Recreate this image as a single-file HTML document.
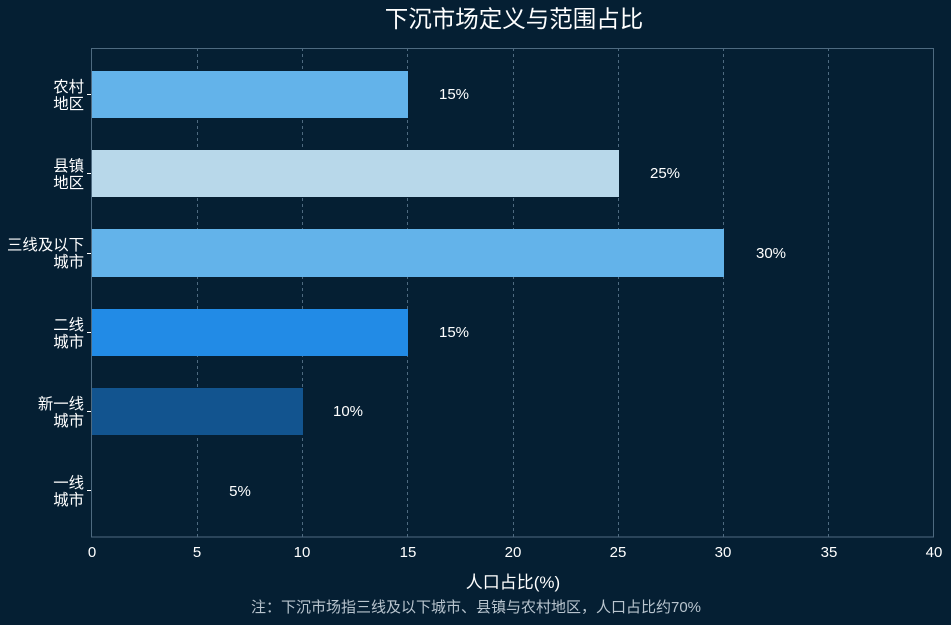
<!DOCTYPE html>
<html><head><meta charset="utf-8"><style>
html,body{margin:0;padding:0;background:#051f33;}
svg{display:block;font-family:"Liberation Sans","Noto Sans CJK SC",sans-serif;}
</style></head><body>
<svg width="951" height="625" viewBox="0 0 951 625">
<rect width="951" height="625" fill="#051f33"/>
<text x="514" y="27" fill="#fff" font-size="23.5" text-anchor="middle">下沉市场定义与范围占比</text>
<g stroke="#4e6a80" stroke-dasharray="3,3" stroke-width="1">
<line x1="197.5" y1="48" x2="197.5" y2="537"/><line x1="302.5" y1="48" x2="302.5" y2="537"/>
<line x1="407.5" y1="48" x2="407.5" y2="537"/><line x1="513.5" y1="48" x2="513.5" y2="537"/>
<line x1="618.5" y1="48" x2="618.5" y2="537"/><line x1="723.5" y1="48" x2="723.5" y2="537"/>
<line x1="828.5" y1="48" x2="828.5" y2="537"/>
</g>
<rect x="92" y="71" width="316" height="47" fill="#63b3ea"/>
<rect x="92" y="150" width="527" height="47" fill="#b8d8ea"/>
<rect x="92" y="229" width="632" height="48" fill="#63b3ea"/>
<rect x="92" y="309" width="316" height="47" fill="#228be6"/>
<rect x="92" y="388" width="211" height="47" fill="#12548f"/>
<rect x="91.5" y="48.5" width="842" height="488.5" fill="none" stroke="#4e6a80"/>
<g fill="#fff" font-size="15" text-anchor="middle">
<text x="454" y="99">15%</text><text x="665" y="178">25%</text><text x="771" y="258">30%</text>
<text x="454" y="337">15%</text><text x="348" y="416">10%</text><text x="240" y="496">5%</text>
</g>
<g fill="#fff" font-size="15.4" text-anchor="end">
<text x="84" y="92">农村</text><text x="84" y="109">地区</text>
<text x="84" y="171">县镇</text><text x="84" y="188">地区</text>
<text x="84" y="250">三线及以下</text><text x="84" y="267">城市</text>
<text x="84" y="330">二线</text><text x="84" y="347">城市</text>
<text x="84" y="409">新一线</text><text x="84" y="426">城市</text>
<text x="84" y="488">一线</text><text x="84" y="505">城市</text>
</g>
<g stroke="#fff"><line x1="87" y1="94.5" x2="91" y2="94.5"/><line x1="87" y1="173.5" x2="91" y2="173.5"/><line x1="87" y1="253.5" x2="91" y2="253.5"/><line x1="87" y1="332.5" x2="91" y2="332.5"/><line x1="87" y1="411.5" x2="91" y2="411.5"/><line x1="87" y1="490.5" x2="91" y2="490.5"/></g>
<g fill="#fff" font-size="15" text-anchor="middle">
<text x="92" y="557">0</text><text x="197" y="557">5</text><text x="302" y="557">10</text><text x="408" y="557">15</text>
<text x="513" y="557">20</text><text x="618" y="557">25</text><text x="723" y="557">30</text><text x="829" y="557">35</text><text x="934" y="557">40</text>
</g>
<text x="513" y="588" fill="#fff" font-size="17" text-anchor="middle">人口占比(%)</text>
<text x="476" y="612" fill="#b8c4ce" font-size="15" text-anchor="middle">注：下沉市场指三线及以下城市、县镇与农村地区，人口占比约70%</text>
</svg>
</body></html>
